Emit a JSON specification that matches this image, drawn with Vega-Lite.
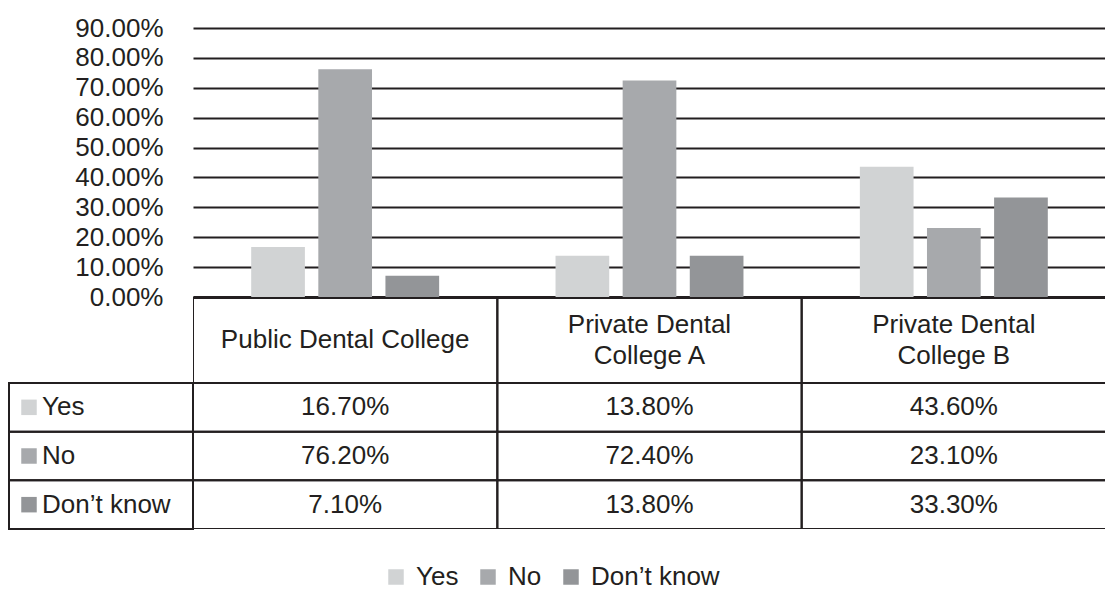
{
  "$schema": "https://vega.github.io/schema/vega-lite/v6.json",
  "padding": {"left": 8, "top": 15, "right": 0, "bottom": 0},
  "columns": 2,
  "spacing": 0,
  "bounds": "flush",
  "config": {
    "font": "Liberation Sans, Arial, sans-serif",
    "view": {"stroke": null},
    "axis": {"labelFont": "Liberation Sans, Arial, sans-serif", "labelFontSize": 26, "labelColor": "#231f20"},
    "legend": {"labelFont": "Liberation Sans, Arial, sans-serif", "labelFontSize": 26, "labelColor": "#231f20"},
    "text": {"font": "Liberation Sans, Arial, sans-serif", "fontSize": 26, "fill": "#231f20"}
  },
  "datasets": {
    "survey": [
      {"college": "Public Dental College", "response": "Yes", "value": 0.167},
      {"college": "Public Dental College", "response": "No", "value": 0.762},
      {"college": "Public Dental College", "response": "Don’t know", "value": 0.071},
      {"college": "Private Dental College A", "response": "Yes", "value": 0.138},
      {"college": "Private Dental College A", "response": "No", "value": 0.724},
      {"college": "Private Dental College A", "response": "Don’t know", "value": 0.138},
      {"college": "Private Dental College B", "response": "Yes", "value": 0.436},
      {"college": "Private Dental College B", "response": "No", "value": 0.231},
      {"college": "Private Dental College B", "response": "Don’t know", "value": 0.333}
    ],
    "colleges": [
      {"college": "Public Dental College", "label": ["Public Dental College"], "lines": 1},
      {"college": "Private Dental College A", "label": ["Private Dental", "College A"], "lines": 2},
      {"college": "Private Dental College B", "label": ["Private Dental", "College B"], "lines": 2}
    ],
    "responses": [
      {"response": "Yes"},
      {"response": "No"},
      {"response": "Don’t know"}
    ]
  },
  "concat": [
    {
      "width": 184, "height": 269,
      "data": {"values": []},
      "mark": {"type": "point", "opacity": 0},
      "encoding": {}
    },
    {
      "width": 913, "height": 269,
      "data": {"name": "survey"},
      "mark": {"type": "bar"},
      "encoding": {
        "x": {
          "field": "college", "type": "nominal",
          "sort": ["Public Dental College", "Private Dental College A", "Private Dental College B"],
          "scale": {"paddingInner": 0, "paddingOuter": -0.0193, "align": 0},
          "axis": {"labels": false, "ticks": false, "title": null, "domain": true, "domainWidth": 3, "domainColor": "#231f20", "grid": false}
        },
        "xOffset": {
          "field": "response", "type": "nominal",
          "sort": ["Yes", "No", "Don’t know"],
          "scale": {"paddingInner": 0.2, "paddingOuter": 0.867}
        },
        "y": {
          "field": "value", "type": "quantitative",
          "scale": {"domain": [0, 0.9]},
          "axis": {
            "values": [0, 0.1, 0.2, 0.3, 0.4, 0.5, 0.6, 0.7, 0.8, 0.9],
            "format": ".2%", "title": null, "ticks": false, "domain": false, "labelOverlap": false,
            "labelPadding": 30, "grid": true, "gridColor": "#231f20", "gridWidth": 2, "gridOpacity": 1
          }
        },
        "color": {
          "field": "response", "type": "nominal",
          "scale": {"domain": ["Yes", "No", "Don’t know"], "range": ["#d1d3d4", "#a7a9ac", "#939598"]},
          "legend": {"title": null, "orient": "none", "legendX": 374, "legendY": 536, "direction": "horizontal", "symbolType": "square", "symbolSize": 240, "symbolStrokeWidth": 0, "symbolOpacity": 1, "labelOffset": 7, "columnPadding": 16}
        }
      }
    },
    {
      "width": 184, "height": 86,
      "data": {"values": []},
      "mark": {"type": "point", "opacity": 0},
      "encoding": {}
    },
    {
      "width": 913, "height": 86,
      "data": {"name": "colleges"},
      "layer": [
        {
          "mark": {"type": "rect", "fill": null, "stroke": "#231f20", "strokeWidth": 2, "clip": true},
          "encoding": {
            "x": {"field": "college", "type": "nominal", "sort": ["Public Dental College", "Private Dental College A", "Private Dental College B"], "scale": {"paddingInner": 0, "paddingOuter": -0.0193, "align": 0}, "axis": null}
          }
        },
        {
          "transform": [{"filter": "datum.lines == 1"}],
          "mark": {"type": "text", "lineHeight": 31, "baseline": "middle"},
          "encoding": {
            "x": {"field": "college", "type": "nominal", "sort": ["Public Dental College", "Private Dental College A", "Private Dental College B"], "axis": null},
            "text": {"field": "label"}
          }
        },
        {
          "transform": [{"filter": "datum.lines == 2"}],
          "mark": {"type": "text", "lineHeight": 31, "baseline": "middle", "dy": -15},
          "encoding": {
            "x": {"field": "college", "type": "nominal", "sort": ["Public Dental College", "Private Dental College A", "Private Dental College B"], "axis": null},
            "text": {"field": "label"}
          }
        }
      ]
    },
    {
      "width": 184, "height": 146,
      "data": {"name": "responses"},
      "layer": [
        {
          "mark": {"type": "rect", "fill": null, "stroke": "#231f20", "strokeWidth": 2},
          "encoding": {
            "y": {"field": "response", "type": "nominal", "sort": ["Yes", "No", "Don’t know"], "scale": {"paddingInner": 0, "paddingOuter": 0}, "axis": null}
          }
        },
        {
          "mark": {"type": "point", "shape": "square", "size": 240, "filled": true, "opacity": 1, "xOffset": -72},
          "encoding": {
            "y": {"field": "response", "type": "nominal", "sort": ["Yes", "No", "Don’t know"], "axis": null},
            "color": {"field": "response", "type": "nominal", "scale": {"domain": ["Yes", "No", "Don’t know"], "range": ["#d1d3d4", "#a7a9ac", "#939598"]}, "legend": {"title": null, "orient": "none", "legendX": 374, "legendY": 536, "direction": "horizontal", "symbolType": "square", "symbolSize": 240, "symbolStrokeWidth": 0, "symbolOpacity": 1, "labelOffset": 7, "columnPadding": 16}}
          }
        },
        {
          "mark": {"type": "text", "align": "left", "baseline": "middle", "dx": -59},
          "encoding": {
            "y": {"field": "response", "type": "nominal", "sort": ["Yes", "No", "Don’t know"], "axis": null},
            "text": {"field": "response"}
          }
        }
      ]
    },
    {
      "width": 913, "height": 146,
      "data": {"name": "survey"},
      "encoding": {
        "x": {"field": "college", "type": "nominal", "sort": ["Public Dental College", "Private Dental College A", "Private Dental College B"], "scale": {"paddingInner": 0, "paddingOuter": -0.0193, "align": 0}, "axis": null},
        "y": {"field": "response", "type": "nominal", "sort": ["Yes", "No", "Don’t know"], "scale": {"paddingInner": 0, "paddingOuter": 0}, "axis": null}
      },
      "layer": [
        {"mark": {"type": "rect", "fill": null, "stroke": "#231f20", "strokeWidth": 2, "clip": true}},
        {"mark": {"type": "text", "baseline": "middle"}, "encoding": {"text": {"field": "value", "type": "quantitative", "format": ".2%"}}}
      ]
    }
  ]
}
